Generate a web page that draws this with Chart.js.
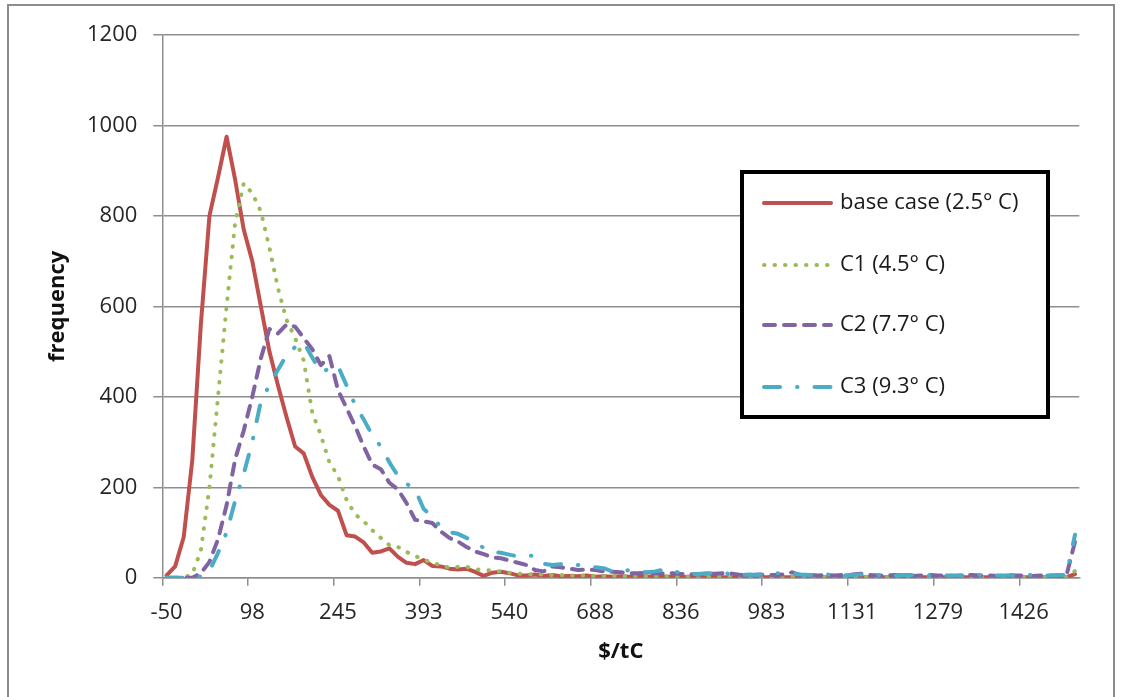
<!DOCTYPE html>
<html>
<head>
<meta charset="utf-8">
<title>frequency vs $/tC</title>
<script src="https://cdn.jsdelivr.net/npm/chart.js@4.4.1/dist/chart.umd.min.js"></script>
<style>
  html, body { margin: 0; padding: 0; background: #fff; }
  #wrap { width: 1123px; height: 697px; }
</style>
</head>
<body>
<div id="wrap"><canvas id="freq-chart" width="1123" height="697"></canvas></div>
<script>
"use strict";

/* --- DATA --- */

// bin values in $/tC (category axis, every 10th one is labelled)
const categories = [
  -50, -35, -20, -6, 9, 24, 39, 53, 68, 83,
  98, 112, 127, 142, 157, 171, 186, 201, 216, 230,
  245, 260, 275, 290, 304, 319, 334, 349, 363, 378,
  393, 408, 422, 437, 452, 467, 481, 496, 511, 526,
  540, 555, 570, 585, 600, 614, 629, 644, 659, 673,
  688, 703, 718, 732, 747, 762, 777, 791, 806, 821,
  836, 850, 865, 880, 895, 910, 924, 939, 954, 969,
  983, 998, 1013, 1028, 1042, 1057, 1072, 1087, 1101, 1116,
  1131, 1146, 1160, 1175, 1190, 1205, 1220, 1234, 1249, 1264,
  1279, 1293, 1308, 1323, 1338, 1352, 1367, 1382, 1397, 1411,
  1426, 1441, 1456, 1470, 1485, 1500, 1515
];

const base_case = [
  5, 25, 90, 260, 560, 800, 885, 975, 880, 770,
  700, 600, 500, 425, 355, 290, 275, 223, 183, 161,
  148, 94, 91, 78, 55, 58, 65, 46, 33, 30,
  39, 26, 25, 20, 18, 20, 13, 4, 11, 13,
  10, 5, 5, 7, 4, 6, 3, 4, 3, 5,
  2, 3, 2, 3, 2, 2, 3, 1, 2, 2,
  1, 2, 1, 1, 2, 1, 1, 2, 1, 1,
  1, 2, 1, 1, 1, 2, 1, 1, 1, 1,
  2, 1, 1, 1, 1, 1, 1, 2, 1, 1,
  1, 1, 1, 1, 1, 1, 1, 1, 1, 1,
  1, 1, 1, 1, 1, 1, 8
];

const c1 = [
  0, 0, 0, 8, 60, 200, 400, 600, 785, 872,
  850, 810, 730, 640, 570, 530, 480, 365, 315, 255,
  225, 172, 140, 125, 105, 88, 72, 68, 57, 48,
  40, 33, 28, 22, 24, 24, 19, 17, 16, 14,
  11, 9, 8, 7, 7, 6, 6, 5, 5, 5,
  4, 4, 4, 3, 4, 3, 3, 3, 3, 3,
  2, 3, 2, 2, 3, 2, 2, 2, 2, 2,
  2, 2, 2, 2, 2, 2, 2, 2, 2, 2,
  2, 2, 2, 2, 2, 2, 2, 2, 2, 2,
  2, 2, 2, 2, 2, 2, 2, 2, 2, 2,
  2, 2, 2, 2, 2, 2, 15
];

const c2 = [
  0, 0, 0, 0, 10, 35, 85, 160, 262, 325,
  400, 485, 550, 540, 560, 555, 530, 505, 470, 490,
  415, 375, 335, 290, 250, 240, 210, 195, 165, 128,
  125, 121, 102, 88, 80, 68, 58, 52, 45, 43,
  38, 33, 28, 17, 14, 25, 23, 20, 17, 18,
  17, 14, 13, 12, 10, 10, 11, 10, 9, 10,
  8, 8, 7, 8, 9, 10, 9, 6, 5, 7,
  6, 6, 7, 12, 5, 6, 5, 6, 5, 6,
  7, 9, 6, 5, 5, 6, 5, 4, 5, 6,
  5, 5, 4, 5, 6, 5, 5, 4, 5, 5,
  5, 4, 5, 5, 4, 5, 80
];

const c3 = [
  0, 0, 0, 0, 3, 15, 55, 100, 170, 230,
  300, 390, 425, 460, 492, 510, 520, 487, 455, 462,
  468, 425, 382, 350, 315, 290, 255, 225, 208, 195,
  152, 135, 112, 101, 97, 88, 77, 66, 57, 55,
  51, 47, 48, 49, 31, 28, 30, 31, 28, 26,
  23, 21, 14, 13, 17, 15, 12, 14, 18, 16,
  10, 8, 8, 10, 10, 10, 8, 6, 7, 6,
  10, 10, 10, 9, 7, 6, 6, 7, 6, 5,
  6, 7, 7, 6, 5, 5, 6, 6, 5, 5,
  6, 5, 5, 5, 6, 6, 5, 5, 5, 6,
  6, 6, 5, 5, 6, 6, 95
];

const series_names = ['base case (2.5\u00b0 C)', 'C1 (4.5\u00b0 C)', 'C2 (7.7\u00b0 C)', 'C3 (9.3\u00b0 C)'];
const y_ticks = [0, 200, 400, 600, 800, 1000, 1200];

/* --- STYLE --- */

const font_family = "'Open Sans', 'DejaVu Sans', sans-serif";
const grid_grey = '#8e8e8e';
const text_col = '#262626';
const label_every = 10;

/* --- PLUGIN: outer frame + boxed legend --- */

const frame_and_legend = {
  id: 'frame_and_legend',
  beforeDraw(chart) {
    const ctx = chart.ctx;
    ctx.save();
    ctx.fillStyle = '#fff';
    ctx.fillRect(0, 0, chart.width, chart.height);
    ctx.strokeStyle = '#8c8c8c';
    ctx.lineWidth = 2;
    ctx.strokeRect(8, 5, 1106, 700);
    ctx.restore();
  },
  afterDraw(chart) {
    const ctx = chart.ctx;
    ctx.save();
    // legend box
    ctx.fillStyle = '#fff';
    ctx.fillRect(742, 172, 306, 245);
    ctx.strokeStyle = '#000';
    ctx.lineWidth = 4;
    ctx.strokeRect(742, 172, 306, 245);

    const rows = [203, 265, 325, 387];
    chart.data.datasets.forEach(function (ds, i) {
      const y = rows[i];
      ctx.beginPath();
      ctx.strokeStyle = ds.borderColor;
      ctx.lineWidth = ds.borderWidth;
      ctx.lineCap = 'round';
      ctx.setLineDash(ds.borderDash || []);
      ctx.moveTo(764, y);
      ctx.lineTo(831, y);
      ctx.stroke();
      ctx.setLineDash([]);

      ctx.fillStyle = '#1a1a1a';
      ctx.font = '22px ' + font_family;
      ctx.textAlign = 'left';
      ctx.textBaseline = 'middle';
      ctx.fillText(ds.label, 840, y);
    });
    ctx.restore();
  }
};

/* --- CHART --- */

const canvas = document.getElementById('freq-chart');

function line_set(name, values, colour, dash, order) {
  return {
    label: name,
    data: values,
    borderColor: colour,
    backgroundColor: colour,
    borderWidth: 4,
    borderDash: dash,
    borderCapStyle: 'round',
    borderJoinStyle: 'round',
    pointRadius: 0,
    pointHoverRadius: 0,
    tension: 0,
    fill: false,
    order: order
  };
}

let freq_chart = new Chart(canvas, {
  type: 'line',
  data: {
    labels: categories,
    datasets: [
      line_set(series_names[0], base_case, '#C0504D', [], 4),
      line_set(series_names[1], c1, '#9BBB59', [0.5, 10], 3),
      line_set(series_names[2], c2, '#8064A2', [11, 9], 2),
      line_set(series_names[3], c3, '#4BACC6', [16, 17, 0.5, 17], 1)
    ]
  },
  options: {
    responsive: false,
    animation: false,
    devicePixelRatio: 1,
    layout: {
      padding: { left: 8, right: 43.7, top: 35, bottom: 0 }
    },
    plugins: {
      legend: { display: false },
      tooltip: { enabled: false }
    },
    scales: {
      x: {
        type: 'category',
        offset: true,
        grid: {
          offset: true,
          drawOnChartArea: false,
          drawTicks: true,
          tickLength: 8,
          lineWidth: 1.5,
          color: function (ctx) {
            return ctx.index % label_every === 0 ? grid_grey : 'rgba(0,0,0,0)';
          }
        },
        border: { display: true, color: grid_grey, width: 1.5 },
        ticks: {
          autoSkip: false,
          maxRotation: 0,
          minRotation: 0,
          padding: 14,
          color: text_col,
          font: { family: font_family, size: 22 },
          callback: function (value, index) {
            return index % label_every === 0 ? String(categories[index]) : '';
          }
        },
        title: {
          display: true,
          text: '$/tC',
          color: '#111',
          font: { family: font_family, size: 22, weight: 'bold' },
          padding: { top: 0, bottom: 32 }
        },
        afterFit: function (scale) {
          scale.height = 697 - 577.7;
        }
      },
      y: {
        min: 0,
        max: 1200,
        grid: {
          color: grid_grey,
          lineWidth: 1.5,
          drawTicks: true,
          tickLength: 9
        },
        border: { display: true, color: grid_grey, width: 1.5 },
        afterBuildTicks: function (scale) {
          scale.ticks = y_ticks.map(function (v) { return { value: v }; });
        },
        ticks: {
          padding: 16,
          color: text_col,
          font: { family: font_family, size: 22 },
          callback: function (value) {
            return String(value);
          }
        },
        title: {
          display: true,
          text: 'frequency',
          color: '#111',
          font: { family: font_family, size: 22, weight: 'bold' },
          padding: { top: 37, bottom: 0 }
        },
        afterFit: function (scale) {
          scale.width = 162.3 - 8;
        }
      }
    }
  },
  plugins: [frame_and_legend]
});
</script>
</body>
</html>
